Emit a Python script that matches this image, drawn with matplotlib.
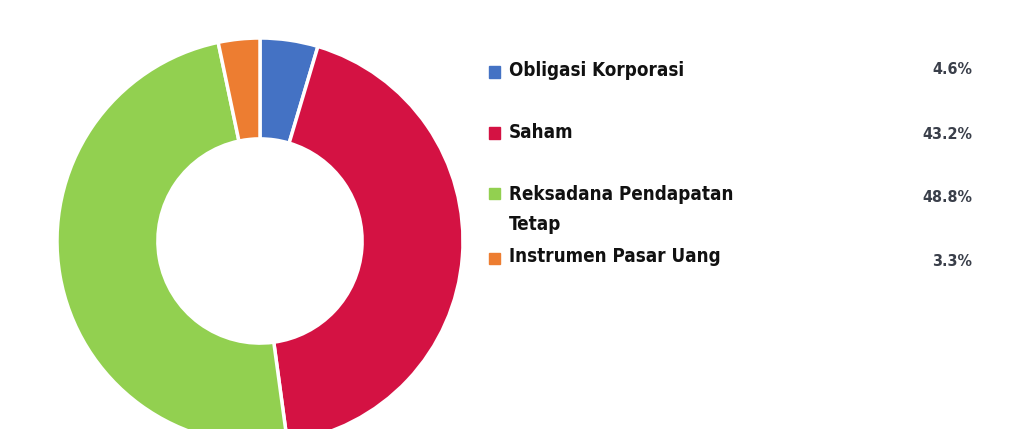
import matplotlib.pyplot as plt
from matplotlib.patches import Rectangle

labels = ['Obligasi Korporasi', 'Saham', 'Reksadana Pendapatan\nTetap', 'Instrumen Pasar Uang']
values = [4.6, 43.2, 48.8, 3.3]
pct_labels = ['4.6%', '43.2%', '48.8%', '3.3%']
colors = ['#4472C4', '#D41243', '#92D050', '#ED7D31']

W, H = 1026, 429
fig = plt.figure(figsize=(W / 100, H / 100), dpi=100)

# donut, centre (260, 241) px, radius 203 px
cx, cy, r = 260, 241, 203
ax = fig.add_axes([(cx - r) / W, (H - cy - r) / H, 2 * r / W, 2 * r / H])
ax.pie(values, colors=colors, startangle=90, counterclock=False, radius=1,
       wedgeprops=dict(width=0.497, edgecolor='white', linewidth=2.5))
ax.set_xlim(-1, 1)
ax.set_ylim(-1, 1)
ax.set_aspect('auto')
ax.axis('off')

font = dict(family='DejaVu Sans', stretch='condensed', weight='bold')

label_y = [71, 132, 194, 256]
marker_y = [72, 133, 194, 258]
pct_y = [70, 134, 197, 262]

for lab, c, ly, my, p, py in zip(labels, colors, label_y, marker_y, pct_labels, pct_y):
    fig.patches.append(Rectangle((489 / W, 1 - (my + 5.5) / H), 11 / W, 11 / H,
                                 transform=fig.transFigure, color=c))
    for k, line in enumerate(lab.split('\n')):
        fig.text(509 / W, 1 - (ly + 31 * k) / H, line, ha='left', va='center',
                 fontsize=13.5, color='#111111', **font)
    fig.text(972 / W, 1 - py / H, p, ha='right', va='center', fontsize=11.5,
             color='#3a3f4a', **font)

fig.savefig('out.png', dpi=100)
